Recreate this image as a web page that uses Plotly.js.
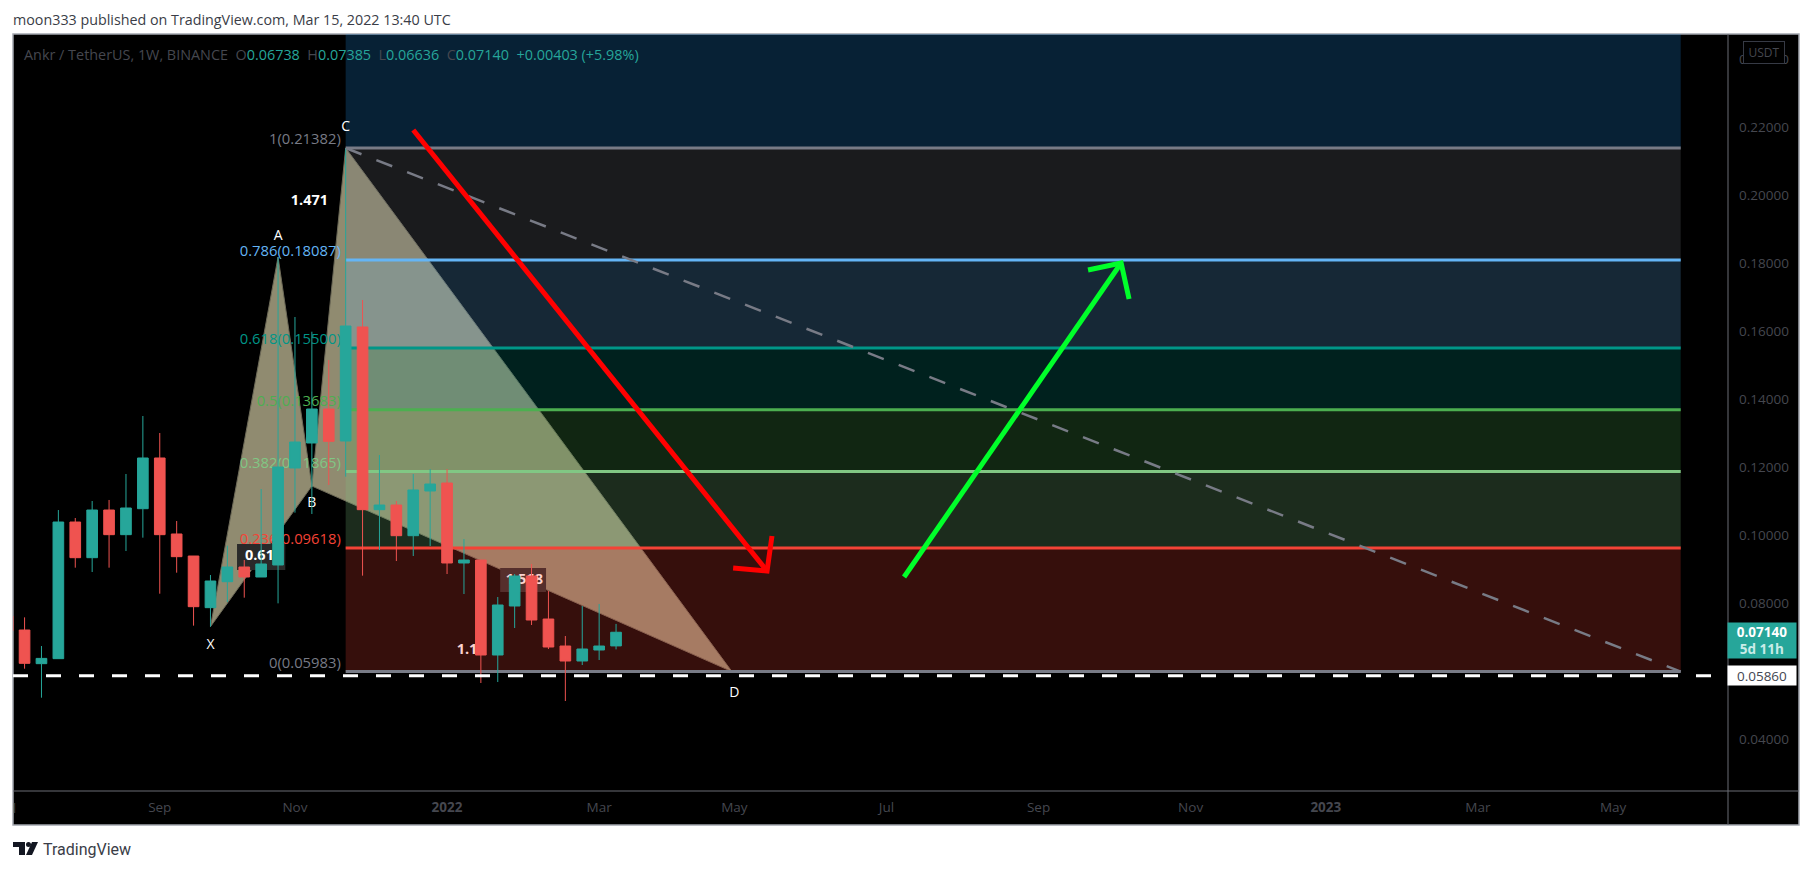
<!DOCTYPE html>
<html><head><meta charset="utf-8">
<script src="https://cdn.plot.ly/plotly-3.0.1.min.js"></script>
<style>html,body{margin:0;padding:0;background:#fff}#chart{width:1813px;height:870px}</style>
</head><body><div id="chart"></div>
<script>
const weeks = ["2021-07-05","2021-07-12","2021-07-19","2021-07-26","2021-08-02","2021-08-09","2021-08-16","2021-08-23","2021-08-30","2021-09-06","2021-09-13","2021-09-20","2021-09-27","2021-10-04","2021-10-11","2021-10-18","2021-10-25","2021-11-01","2021-11-08","2021-11-15","2021-11-22","2021-11-29","2021-12-06","2021-12-13","2021-12-20","2021-12-27","2022-01-03","2022-01-10","2022-01-17","2022-01-24","2022-01-31","2022-02-07","2022-02-14","2022-02-21","2022-02-28","2022-03-07","2022-03-14"];
const opens = [.07618,.07206,.06216,.06363,.10382,.09333,.10735,.10010,.10774,.12265,.10030,.09382,.07863,.08627,.09059,.08765,.09118,.11971,.12706,.13706,.12765,.16118,.10745,.10882,.09980,.11294,.11529,.09177,.09265,.06471,.07912,.08794,.07529,.06735,.06294,.06618,.06738];
const highs = [.07892,.07578,.06735,.10735,.10500,.11000,.11030,.11794,.13500,.13000,.10412,.09382,.08824,.09686,.09265,.11353,.18176,.16412,.15979,.15147,.21382,.16912,.12353,.11000,.11794,.11941,.11941,.09882,.09265,.08176,.08853,.09147,.08353,.07029,.07912,.07971,.07385];
const lows  = [.07108,.06068,.05215,.06363,.09039,.08912,.09039,.09529,.09922,.08274,.08892,.07334,.07304,.08029,.08157,.08765,.07990,.10657,.10618,.11471,.11716,.08804,.09559,.09235,.09382,.09676,.08853,.08265,.05647,.05676,.07265,.07353,.06647,.05118,.06176,.06324,.06636];
const closes= [.07186,.06226,.06371,.10382,.09333,.10735,.10010,.10794,.12265,.10010,.09363,.07892,.08647,.09059,.08765,.09147,.12000,.12735,.13706,.12755,.16147,.10745,.10882,.09980,.11324,.11500,.09177,.09265,.06471,.07941,.08794,.07500,.06706,.06294,.06647,.06735,.07140];

const xTickDates = ["2021-09-06","2021-11-01","2022-01-03","2022-03-07","2022-05-02","2022-07-04","2022-09-05","2022-11-07","2023-01-02","2023-03-06","2023-05-01"];
const xTickText  = ["Sep","Nov","<b>2022</b>","Mar","May","Jul","Sep","Nov","<b>2023</b>","Mar","May"];

const fibLevels = [0.05983,0.09618,0.11865,0.13683,0.15500,0.18087,0.21382];
const fibNames  = ["0","0.236","0.382","0.5","0.618","0.786","1"];
const fibColors = ["#787b86","#f44336","#81c784","#4caf50","#009688","#64b5f6","#787b86"];
const fibBandFill = ["#f44336","#81c784","#4caf50","#009688","#64b5f6","#787b86","#2196f3"];
const fibStart = "2021-11-22", fibEnd = "2023-05-29", fibLabelDate = "2021-11-20";

const patternDates  = ["2021-09-27","2021-10-25","2021-11-08","2021-11-22","2022-05-01"];
const patternPrices = [0.07304,0.18176,0.11440,0.21382,0.05983];

const pointLabels = ["X","A","B","C","D"];
const pointLabelDates  = ["2021-09-27","2021-10-25","2021-11-08","2021-11-22","2022-05-02"];
const pointLabelPrices = [0.06765,0.18794,0.10941,0.21971,0.05324];

const ratioLabels = ["1.471","0.618","1.568","1.13"];
const ratioDates  = ["2021-11-07","2021-10-19","2022-02-04","2022-01-13"];
const ratioPrices = [0.19824,0.09382,0.08676,0.06597];
const ratioColors = ["#ffffff","#ffffff","#fcd3d0","#fcd3d0"];

const redShaftDates = ["2021-12-20","2022-05-15 13:00"], redShaftPrices = [0.21912,0.08941];
const redHeadDates  = ["2022-05-17 14:00","2022-05-15 13:00","2022-05-01 12:00"], redHeadPrices = [0.09971,0.08941,0.09029];
const greenShaftDates = ["2022-07-11 07:00","2022-10-09 05:00"], greenShaftPrices = [0.08765,0.18000];
const greenHeadDates  = ["2022-09-25 12:00","2022-10-09 05:00","2022-10-12 12:00"], greenHeadPrices = [0.17794,0.18000,0.16941];

const lastPrice = 0.07140, markPrice = 0.05860;
const xRange = ["2021-07-07 05:00","2023-06-17 14:00"];
const yRange = [0.02471,0.24735];

const GREY="#45474f", FONT='"Open Sans", sans-serif';
const L=13,R=1728,T=34,B=791;
const px=x=>(x-L)/(R-L), py=y=>(B-y)/(B-T);
const xr=x=>({xref:'paper',x:px(x)}), yr=y=>({yref:'paper',y:py(y)});

/* shapes */
const shapes=[];
shapes.push({type:'rect',xref:'paper',yref:'paper',layer:'below',x0:0,x1:px(1799),y0:py(825),y1:1,fillcolor:'#000',line:{color:'#a3a6af',width:1.5}});
shapes.push({type:'line',xref:'paper',yref:'paper',layer:'below',x0:1,x1:1,y0:py(825),y1:1,line:{color:'#6a6c74',width:1}});
shapes.push({type:'line',xref:'paper',yref:'paper',layer:'below',x0:0,x1:px(1799),y0:0,y1:0,line:{color:'#6a6c74',width:1}});
const PATTERN='#908b70';
const tri=(a,b,c)=>({type:'path',xref:'x',yref:'y',layer:'below',fillcolor:PATTERN,line:{color:'#6d6a58',width:1},
  path:`M${patternDates[a]} ${patternPrices[a]}L${patternDates[b]} ${patternPrices[b]}L${patternDates[c]} ${patternPrices[c]}Z`});
shapes.push(tri(0,1,2)); shapes.push(tri(2,3,4));
shapes.push({type:'rect',xref:'x',yref:'y',layer:'below',x0:"2021-10-08",x1:"2021-10-28",y0:0.08971,y1:0.09735,fillcolor:'#2a2a2a',line:{width:0}});
shapes.push({type:'rect',xref:'x',yref:'y',layer:'below',x0:"2022-01-25",x1:"2022-02-13",y0:0.08324,y1:0.09029,fillcolor:'#2a2a2a',line:{width:0}});
fibLevels.forEach((lv,i)=>{
  const top=i<fibLevels.length-1?fibLevels[i+1]:yRange[1];
  shapes.push({type:'rect',xref:'x',yref:'y',layer:'below',x0:fibStart,x1:fibEnd,y0:lv,y1:top,fillcolor:fibBandFill[i],opacity:0.22,line:{width:0}});
});
fibLevels.forEach((lv,i)=>{
  shapes.push({type:'line',xref:'x',yref:'y',layer:'below',x0:fibStart,x1:fibEnd,y0:lv,y1:lv,line:{color:fibColors[i],width:3}});
});
/* logo */
const P=(a)=>a.map((p,i)=>(i?'L':'M')+px(p[0])+' '+py(p[1])).join('')+'Z';
shapes.push({type:'path',xref:'paper',yref:'paper',fillcolor:'#131722',line:{width:0},path:P([[13,842],[25,842],[25,855],[19,855],[19,847],[13,847]])});
shapes.push({type:'path',xref:'paper',yref:'paper',fillcolor:'#131722',line:{width:0},path:P([[32,842],[38,842],[32,855],[26,855]])});
shapes.push({type:'circle',xref:'paper',yref:'paper',fillcolor:'#131722',line:{width:0},x0:px(26),x1:px(31),y0:py(847),y1:py(842)});

/* annotations */
const T0='<span style="color:#45474f">', T1='</span>', V0='<span style="color:#26a69a">';
const ann=[
 {...xr(22),...yr(54),xanchor:'left',yanchor:'middle',showarrow:false,font:{family:FONT,size:14.4,color:GREY},
  text:`${T0}Ankr / TetherUS, 1W, BINANCE  O${T1}${V0}0.06738${T1}  ${T0}H${T1}${V0}0.07385${T1}  ${T0}L${T1}${V0}0.06636${T1}  ${T0}C${T1}${V0}0.07140  +0.00403 (+5.98%)${T1}`},
 {...xr(41),...yr(849),xanchor:'left',yanchor:'middle',showarrow:false,font:{family:'Roboto, sans-serif',size:16,color:'#3a3d47'},text:'TradingView'},
 {...xr(1764),...yr(52),xanchor:'center',yanchor:'middle',showarrow:false,font:{family:FONT,size:12,color:GREY},text:'USDT',bgcolor:'#000',bordercolor:'#363a45',borderwidth:1,borderpad:2,width:36,height:17},
 {...xr(1762),yref:'y',y:lastPrice-0.0023,xanchor:'center',yanchor:'middle',showarrow:false,font:{family:FONT,size:13.5,color:'#fff'},text:'<b>0.07140</b><br><span style="color:#c9ece8"><b>5d 11h</b></span>',bgcolor:'#26a69a',width:68,height:35,borderpad:0},
 {...xr(1762),yref:'y',y:markPrice,xanchor:'center',yanchor:'middle',showarrow:false,font:{family:FONT,size:13.5,color:'#434651'},text:markPrice.toFixed(5),bgcolor:'#ffffff',width:68,height:19,borderpad:0},
 {...xr(14),...yr(808),xanchor:'center',yanchor:'middle',showarrow:false,font:{family:FONT,size:12,color:GREY},text:'l'}
];

/* traces */
const textTrace=(x,y,text,colors,pos,size,zorder,bold)=>({type:'scatter',mode:'text',x,y,text,textposition:pos,zorder,
  textfont:{family:FONT,size,color:colors,weight:bold?700:400},hoverinfo:'skip',showlegend:false,cliponaxis:false});
const lineTrace=(x,y,color,width,dash)=>({type:'scatter',mode:'lines',x,y,zorder:3,line:{color,width,dash:dash||'solid'},hoverinfo:'skip',showlegend:false});
const traces=[
 textTrace(fibLevels.map(()=>fibLabelDate),fibLevels,fibNames.map((n,i)=>`${n}(${fibLevels[i].toFixed(5)})`),fibColors,'top left',14.8,0,false),
 textTrace(pointLabelDates,pointLabelPrices,pointLabels,'#ffffff','middle center',14,0,false),
 textTrace(ratioDates,ratioPrices,ratioLabels,ratioColors,'middle center',14.5,0,true),
 {type:'candlestick',x:weeks,open:opens,high:highs,low:lows,close:closes,zorder:1,whiskerwidth:0,hoverinfo:'skip',showlegend:false,
  increasing:{line:{color:'#26a69a',width:1},fillcolor:'#26a69a'},decreasing:{line:{color:'#ef5350',width:1},fillcolor:'#ef5350'}},
 lineTrace([patternDates[3],fibEnd],[fibLevels[6],fibLevels[0]],'#787b86',2.5,'17px,16px'),
 lineTrace([xRange[0],xRange[1]],[markPrice,markPrice],'#ffffff',3,'15px,18px'),
 lineTrace(redShaftDates,redShaftPrices,'#ff0000',5),
 lineTrace(redHeadDates,redHeadPrices,'#ff0000',5),
 lineTrace(greenShaftDates,greenShaftPrices,'#00ff2a',5),
 lineTrace(greenHeadDates,greenHeadPrices,'#00ff2a',5)
];

const layout={
 width:1813,height:870,paper_bgcolor:'#fff',plot_bgcolor:'rgba(0,0,0,0)',showlegend:false,
 margin:{l:L,r:1813-R,t:T,b:870-B,pad:0},
 boxgap:0.1,
 title:{text:'moon333 published on TradingView.com, Mar 15, 2022 13:40 UTC',x:13/1813,xanchor:'left',xref:'container',y:1-20/870,yanchor:'middle',font:{family:FONT,size:14.3,color:'#3a3d47'}},
 xaxis:{type:'date',range:xRange,rangeslider:{visible:false},tickmode:'array',tickvals:xTickDates,ticktext:xTickText,showgrid:false,zeroline:false,showline:false,ticks:'',
   tickfont:{family:FONT,size:13.5,color:GREY},ticklabelstandoff:6,tickangle:0},
 yaxis:{side:'right',range:yRange,tick0:0,dtick:0.02,tickmode:'linear',tickformat:'.5f',showgrid:false,zeroline:false,showline:false,ticks:'',
   tickfont:{family:FONT,size:13.5,color:GREY},ticklabelstandoff:10},
 shapes,annotations:ann,hovermode:false
};
Plotly.newPlot('chart',traces,layout,{displayModeBar:false,staticPlot:true});
</script></body></html>
